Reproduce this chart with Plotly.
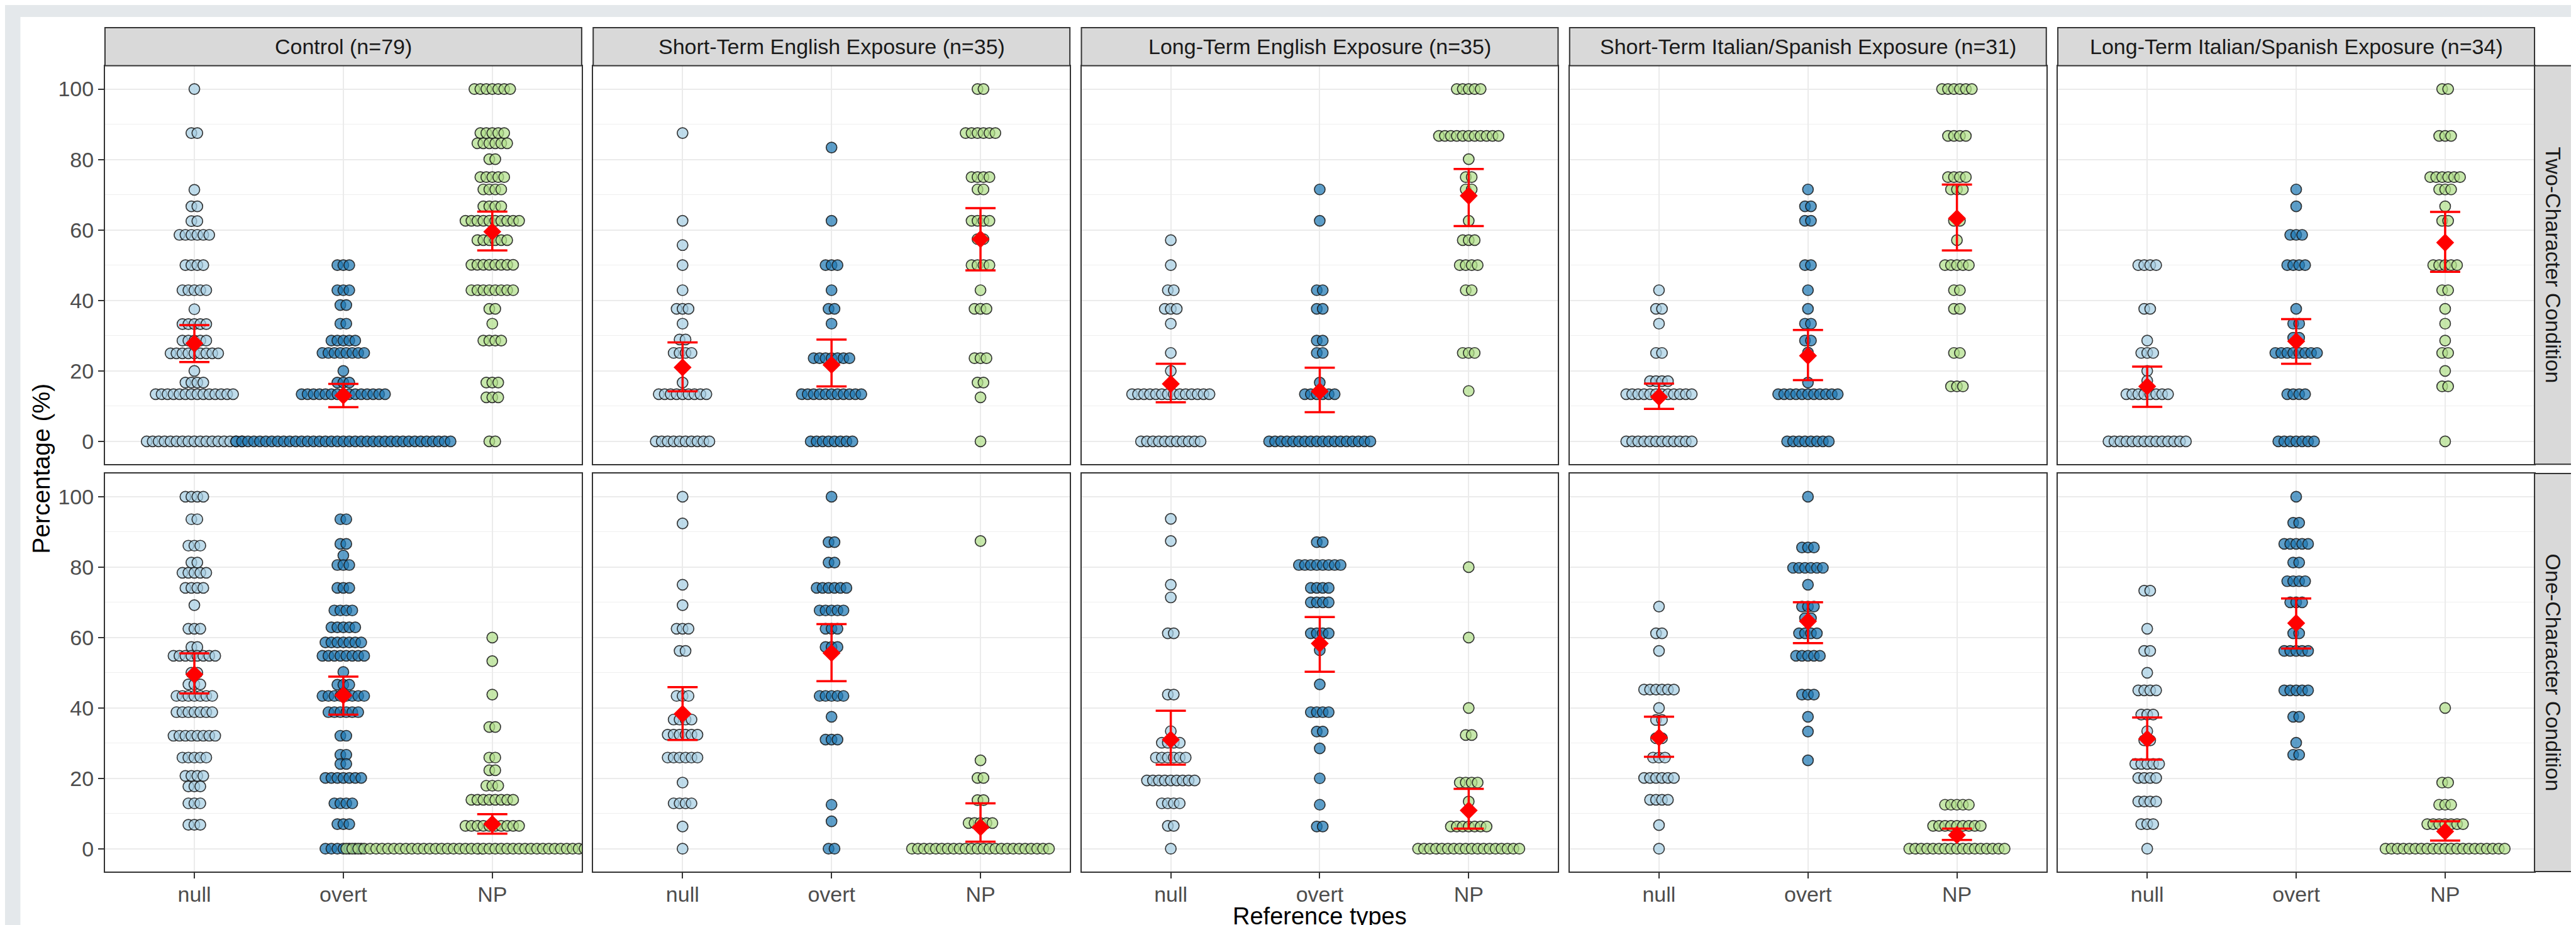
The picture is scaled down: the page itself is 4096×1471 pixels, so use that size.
import plotly.graph_objects as go

# ---------------- categories / labels ----------------
GROUPS = ["Control (n=79)", "Short-Term English Exposure (n=35)", "Long-Term English Exposure (n=35)",
          "Short-Term Italian/Spanish Exposure (n=31)", "Long-Term Italian/Spanish Exposure (n=34)"]
CONDITIONS = ["Two-Character Condition", "One-Character Condition"]
REF_TYPES = ["null", "overt", "NP"]
Y_TICKS = [0, 20, 40, 60, 80, 100]

# ---------------- dot data: (percentage, number of participants) ----------------
# Two-Character Condition
ctrl_two_null = [(100, 1), (87.5, 2), (71.4, 1), (66.7, 2), (62.5, 2), (58.6, 6), (50, 4), (42.9, 5), (37.5, 1),
                 (33.3, 5), (28.6, 5), (25, 9), (20, 1), (16.7, 4), (13.4, 14), (0, 17)]
ctrl_two_overt = [(50, 3), (42.9, 3), (38.7, 2), (33.4, 2), (28.6, 5), (25.1, 8), (20, 1), (16.7, 3), (13.4, 15), (0, 37)]
ctrl_two_np = [(100, 7), (87.5, 5), (84.6, 6), (80.1, 2), (75, 5), (71.5, 4), (66.7, 4), (62.6, 10), (57.1, 6),
               (50.1, 8), (42.9, 8), (37.6, 2), (33.4, 1), (28.6, 4), (16.7, 3), (12.5, 3), (0, 2)]

ste_two_null = [(87.5, 1), (62.6, 1), (55.7, 1), (50, 1), (42.9, 1), (37.6, 3), (33.4, 1), (28.9, 2), (25.1, 4),
                (16.7, 1), (13.4, 9), (0, 10)]
ste_two_overt = [(83.4, 1), (62.6, 1), (50, 3), (42.9, 1), (37.6, 2), (33.4, 1), (23.6, 7), (13.4, 11), (0, 8)]
ste_two_np = [(100, 2), (87.5, 6), (75, 4), (71.5, 2), (62.6, 4), (57.4, 2), (50, 4), (42.9, 1), (37.6, 3),
              (23.6, 3), (16.7, 2), (12.5, 1), (0, 1)]

lte_two_null = [(57.1, 1), (50, 1), (42.9, 2), (37.6, 3), (33.4, 1), (25.1, 1), (20, 1), (13.4, 14), (0, 11)]
lte_two_overt = [(71.5, 1), (62.6, 1), (42.9, 2), (37.6, 2), (28.6, 2), (25.1, 2), (16.7, 1), (13.4, 6), (0, 18)]
lte_two_np = [(100, 5), (86.7, 11), (80.1, 1), (75, 2), (71.5, 2), (62.6, 1), (57.1, 3), (50, 4), (42.9, 2),
              (25.1, 3), (14.3, 1)]

sti_two_null = [(42.9, 1), (37.6, 2), (33.4, 1), (25.1, 2), (17.1, 4), (13.4, 12), (0, 12)]
sti_two_overt = [(71.5, 1), (66.7, 2), (62.6, 2), (50, 2), (42.9, 1), (37.6, 1), (33.4, 2), (28.6, 2), (25.2, 1),
                 (16.7, 1), (13.4, 11), (0, 8)]
sti_two_np = [(100, 6), (86.7, 4), (75, 4), (71.5, 3), (62.6, 2), (57.1, 1), (50, 5), (42.9, 2), (37.6, 2),
              (25.1, 2), (15.6, 3)]

lti_two_null = [(50, 4), (37.6, 2), (28.6, 1), (25.1, 3), (20, 1), (17.2, 1), (13.4, 8), (0, 14)]
lti_two_overt = [(71.5, 1), (66.7, 1), (58.6, 3), (50, 4), (37.6, 1), (33.4, 2), (29.4, 2), (25.1, 8), (13.4, 4), (0, 7)]
lti_two_np = [(100, 2), (86.7, 3), (75, 6), (71.5, 3), (66.7, 1), (62.6, 2), (50, 5), (42.9, 2), (37.6, 1),
              (33.4, 1), (28.6, 1), (25.1, 2), (20, 1), (15.6, 2), (0, 1)]

# One-Character Condition
ctrl_one_null = [(100, 4), (93.6, 2), (86.1, 3), (81.3, 2), (78.4, 5), (74.1, 4), (69.2, 1), (62.5, 3), (57.3, 2),
                 (54.8, 8), (50, 2), (46.7, 3), (43.4, 7), (38.8, 7), (32.1, 8), (25.9, 5), (20.7, 4), (17.7, 3),
                 (12.9, 3), (6.8, 3)]
ctrl_one_overt = [(93.6, 2), (86.6, 2), (83.3, 1), (80.6, 3), (74.1, 3), (67.7, 4), (62.9, 5), (58.6, 7), (54.8, 8),
                  (50.2, 1), (46.6, 3), (43.4, 8), (38.8, 6), (32.1, 2), (26.7, 2), (24.1, 2), (20.1, 7), (12.9, 4),
                  (7, 3), (0, 7)]
ctrl_one_np = [(60, 1), (53.3, 1), (43.8, 1), (34.6, 2), (25.9, 2), (22.3, 2), (17.9, 3), (13.9, 8), (6.5, 10), (0, 50)]

ste_one_null = [(100, 1), (92.4, 1), (75, 1), (69.2, 1), (62.5, 3), (56.2, 2), (43.4, 3), (36.7, 4), (32.4, 6),
                (25.9, 6), (18.8, 1), (12.9, 4), (6.3, 1), (0, 1)]
ste_one_overt = [(100, 1), (87.1, 2), (81.3, 2), (74.1, 6), (67.7, 5), (62.5, 3), (57.3, 3), (43.4, 5), (37.5, 1),
                 (31, 3), (12.5, 1), (7.8, 1), (0, 2)]
ste_one_np = [(87.4, 1), (25.1, 1), (20.1, 2), (13.8, 2), (7.3, 5), (0, 24)]

lte_one_null = [(93.7, 1), (87.4, 1), (75, 1), (71.4, 1), (61.2, 2), (43.8, 2), (33.4, 1), (30.1, 4), (25.9, 6),
                (19.4, 9), (12.9, 4), (6.5, 2), (0, 1)]
lte_one_overt = [(87.1, 2), (80.6, 8), (74.1, 4), (70, 4), (61.2, 4), (56.4, 1), (46.7, 1), (38.8, 4), (33.3, 2),
                 (28.5, 1), (20, 1), (12.5, 1), (6.3, 2)]
lte_one_np = [(80, 1), (60, 1), (40, 1), (32.3, 2), (18.8, 4), (13.4, 1), (6.3, 7), (0, 18)]

sti_one_null = [(68.8, 1), (61.2, 2), (56.2, 1), (45.2, 6), (40, 1), (36.6, 2), (31.4, 2), (25.9, 3), (20.1, 6),
                (13.9, 4), (6.7, 1), (0, 1)]
sti_one_overt = [(100, 1), (85.6, 3), (79.8, 6), (75, 1), (68.8, 3), (65.5, 2), (61.2, 4), (54.8, 5), (43.8, 3),
                 (37.5, 1), (33.3, 1), (25.1, 1)]
sti_one_np = [(12.5, 5), (6.5, 9), (0, 17)]

lti_one_null = [(73.3, 2), (62.5, 1), (56.2, 2), (50, 1), (45, 4), (38.1, 3), (33.4, 1), (30.8, 2), (24.1, 5),
                (20.1, 4), (13.4, 4), (7, 3), (0, 1)]
lti_one_overt = [(100, 1), (92.6, 2), (86.6, 5), (81.3, 2), (76, 4), (70, 3), (64.1, 1), (61.2, 2), (56.2, 5),
                 (45, 5), (37.5, 2), (30.1, 1), (26.7, 2)]
lti_one_np = [(40, 1), (18.8, 2), (12.5, 3), (7, 7), (0, 21)]

# ---------------- means and 95% CI (per group, in GROUPS order) ----------------
two_null_mean = [27.8, 21.0, 16.3, 12.6, 15.6]
two_null_hi = [33.0, 28.1, 22.0, 16.4, 21.2]
two_null_lo = [22.5, 14.2, 11.1, 9.2, 9.8]
two_overt_mean = [13.0, 21.7, 14.2, 24.3, 28.4]
two_overt_hi = [16.3, 28.9, 20.9, 31.6, 34.7]
two_overt_lo = [9.7, 15.6, 8.3, 17.4, 22.0]
two_np_mean = [59.5, 57.4, 69.7, 63.3, 56.4]
two_np_hi = [65.2, 66.2, 77.3, 72.9, 65.1]
two_np_lo = [54.2, 48.5, 61.1, 54.2, 48.1]

one_null_mean = [49.5, 38.3, 31.0, 31.6, 31.2]
one_null_hi = [55.5, 45.9, 39.2, 37.5, 37.3]
one_null_lo = [44.1, 30.9, 23.9, 26.1, 25.3]
one_overt_mean = [43.6, 55.6, 58.3, 64.6, 64.1]
one_overt_hi = [48.9, 63.8, 65.8, 70.0, 71.1]
one_overt_lo = [38.1, 47.6, 50.3, 58.4, 56.9]
one_np_mean = [7.0, 6.1, 10.9, 3.9, 4.9]
one_np_hi = [9.8, 12.9, 17.0, 5.7, 7.8]
one_np_lo = [4.3, 2.0, 5.7, 2.5, 2.3]

# ---------------- assemble ----------------
DOTS = [
    [[ctrl_two_null, ctrl_two_overt, ctrl_two_np], [ste_two_null, ste_two_overt, ste_two_np],
     [lte_two_null, lte_two_overt, lte_two_np], [sti_two_null, sti_two_overt, sti_two_np],
     [lti_two_null, lti_two_overt, lti_two_np]],
    [[ctrl_one_null, ctrl_one_overt, ctrl_one_np], [ste_one_null, ste_one_overt, ste_one_np],
     [lte_one_null, lte_one_overt, lte_one_np], [sti_one_null, sti_one_overt, sti_one_np],
     [lti_one_null, lti_one_overt, lti_one_np]],
]
MEANS = [
    [(two_null_mean, two_null_lo, two_null_hi), (two_overt_mean, two_overt_lo, two_overt_hi),
     (two_np_mean, two_np_lo, two_np_hi)],
    [(one_null_mean, one_null_lo, one_null_hi), (one_overt_mean, one_overt_lo, one_overt_hi),
     (one_np_mean, one_np_lo, one_np_hi)],
]

# ---------------- style ----------------
W, H = 4096, 1471
REF_W, REF_H = 6701, 2407          # reference pixel frame used for layout geometry
FILLS = ["rgba(166,206,227,0.72)", "rgba(31,120,180,0.72)", "rgba(178,223,138,0.72)"]
STACK_STEP = 0.04                  # horizontal offset between stacked dots (category units)
FONT = "Liberation Sans, Arial, Helvetica, sans-serif"
X_RANGE = [0.4, 3.6]
Y_RANGE = [-6.5, 106.6]

PANEL_X0, PANEL_W, PANEL_STEP = 260, 1240, 1270
ROW_Y = [(158, 1195), (1219, 2255)]
STRIP_TOP = 59
STRIP_RIGHT_W = 98


def fx(px):
    return px / REF_W


def fy(py):
    return 1 - py / REF_H


fig = go.Figure()
layout = {}
shapes = []
annotations = []

for r in range(2):
    for c in range(5):
        k = r * 5 + c + 1
        xa = "x" if k == 1 else f"x{k}"
        ya = "y" if k == 1 else f"y{k}"
        # dots
        for t in range(3):
            xs, ys = [], []
            for val, n in DOTS[r][c][t]:
                for i in range(n):
                    xs.append(t + 1 + (i - (n - 1) / 2) * STACK_STEP)
                    ys.append(val)
            fig.add_trace(go.Scatter(
                x=xs, y=ys, mode="markers", xaxis=xa, yaxis=ya, showlegend=False, hoverinfo="skip",
                marker=dict(size=17, color=FILLS[t], line=dict(color="rgba(25,25,25,0.85)", width=1.7))))
        # means + CI
        mx, my, up, dn = [], [], [], []
        for t in range(3):
            m, lo, hi = MEANS[r][t]
            mx.append(t + 1)
            my.append(m[c])
            up.append(hi[c] - m[c])
            dn.append(m[c] - lo[c])
        fig.add_trace(go.Scatter(
            x=mx, y=my, mode="markers", xaxis=xa, yaxis=ya, showlegend=False,
            marker=dict(symbol="diamond", size=22, color="#FF0000"),
            error_y=dict(type="data", symmetric=False, array=up, arrayminus=dn,
                         color="#FF0000", thickness=3.5, width=24)))

        x0 = PANEL_X0 + c * PANEL_STEP
        x1 = x0 + PANEL_W
        y0, y1 = ROW_Y[r]
        xkey = "xaxis" if k == 1 else f"xaxis{k}"
        ykey = "yaxis" if k == 1 else f"yaxis{k}"
        layout[xkey] = dict(
            domain=[fx(x0), fx(x1)], anchor=ya, range=X_RANGE,
            tickmode="array", tickvals=[1, 2, 3], ticktext=REF_TYPES,
            showticklabels=(r == 1), ticks="outside" if r == 1 else "", ticklen=9, tickwidth=2,
            ticklabelstandoff=-4,
            tickcolor="#333333", tickfont=dict(family=FONT, size=34, color="#4D4D4D"),
            showgrid=True, gridcolor="#EBEBEB", gridwidth=2.4, zeroline=False,
            showline=True, mirror=True, linecolor="#333333", linewidth=2)
        layout[ykey] = dict(
            domain=[fy(y1), fy(y0)], anchor=xa, range=Y_RANGE,
            tickmode="array", tickvals=Y_TICKS,
            showticklabels=(c == 0), ticks="outside" if c == 0 else "", ticklen=9, tickwidth=2,
            tickcolor="#333333", tickfont=dict(family=FONT, size=34, color="#4D4D4D"),
            showgrid=True, gridcolor="#EBEBEB", gridwidth=2.4, zeroline=False,
            minor=dict(tickmode="array", tickvals=[10, 30, 50, 70, 90], showgrid=True,
                       gridcolor="#EFEFEF", gridwidth=1.3),
            showline=True, mirror=True, linecolor="#333333", linewidth=2)

# white plot background on grey page
shapes.append(dict(type="rect", xref="paper", yref="paper", x0=fx(40), x1=fx(6680), y0=0, y1=fy(31),
                   fillcolor="white", line=dict(width=0), layer="below"))

# top strips
for c in range(5):
    x0 = PANEL_X0 + c * PANEL_STEP
    x1 = x0 + PANEL_W
    shapes.append(dict(type="rect", xref="paper", yref="paper", x0=fx(x0), x1=fx(x1),
                       y0=fy(ROW_Y[0][0]), y1=fy(STRIP_TOP), fillcolor="#D9D9D9",
                       line=dict(color="#333333", width=2), layer="above"))
    annotations.append(dict(xref="paper", yref="paper", x=fx((x0 + x1) / 2), y=fy((STRIP_TOP + ROW_Y[0][0]) / 2),
                            text=GROUPS[c], showarrow=False, xanchor="center", yanchor="middle",
                            font=dict(family=FONT, size=34, color="#1A1A1A")))

# right strips
sx0 = PANEL_X0 + 4 * PANEL_STEP + PANEL_W
sx1 = sx0 + STRIP_RIGHT_W
for r in range(2):
    y0, y1 = ROW_Y[r]
    shapes.append(dict(type="rect", xref="paper", yref="paper", x0=fx(sx0), x1=fx(sx1),
                       y0=fy(y1), y1=fy(y0), fillcolor="#D9D9D9",
                       line=dict(color="#333333", width=2), layer="above"))
    annotations.append(dict(xref="paper", yref="paper", x=fx((sx0 + sx1) / 2), y=fy((y0 + y1) / 2),
                            text=CONDITIONS[r], showarrow=False, textangle=90,
                            xanchor="center", yanchor="middle",
                            font=dict(family=FONT, size=34, color="#1A1A1A")))

# axis titles
annotations.append(dict(xref="paper", yref="paper", x=fx(PANEL_X0 + (4 * PANEL_STEP + PANEL_W) / 2), y=0,
                        text="Reference types", showarrow=False, xanchor="center", yanchor="bottom",
                        borderpad=0, font=dict(family=FONT, size=38, color="#000000")))
annotations.append(dict(xref="paper", yref="paper", x=fx(94), y=fy((ROW_Y[0][0] + ROW_Y[1][1]) / 2),
                        text="Percentage (%)", showarrow=False, textangle=-90,
                        xanchor="center", yanchor="middle",
                        font=dict(family=FONT, size=39, color="#000000")))

fig.update_layout(
    width=W, height=H, autosize=False,
    margin=dict(l=0, r=0, t=0, b=0),
    paper_bgcolor="#E4E8EB", plot_bgcolor="white",
    shapes=shapes, annotations=annotations,
    font=dict(family=FONT),
    **layout)

fig.write_html("out.html")
